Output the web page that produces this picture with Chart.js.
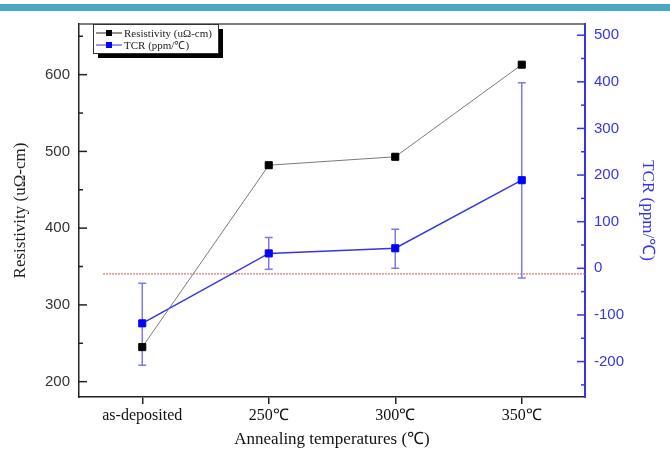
<!DOCTYPE html>
<html>
<head>
<meta charset="utf-8">
<script src="https://cdn.jsdelivr.net/npm/chart.js@4.4.0/dist/chart.umd.min.js"></script>
<style>
  html, body { margin: 0; padding: 0; background: #fff; }
  canvas { display: block; }
</style>
</head>
<body>
<canvas id="grafico" width="670" height="450"></canvas>
<script>
// datos
const temperaturas = ['as-deposited', '250℃', '300℃', '350℃'];
const resistividad = [245, 482, 493, 613];
const tcr = [-118, 32, 43, 189];
const tcrErrAlto = [-32, 66, 84, 398];
const tcrErrBajo = [-208, -2, 0, -21];
const lineaCero = -12;          // línea roja punteada (eje TCR)
const lineaCeroDesde = -0.31;   // posición de categoría donde empieza
const ticksResistividad = [200, 300, 400, 500, 600];
const ticksTcr = [-200, -100, 0, 100, 200, 300, 400, 500];

const serif = 'Liberation Serif, Times New Roman, serif';
const sans = 'Liberation Sans, Arial, sans-serif';
const azul = '#3535e6';

const decoracion = {
    id: 'decoracion',
    beforeDraw(chart) {
        const ctx = chart.ctx;
        ctx.save();
        ctx.fillStyle = '#4ba8c4'; // franja superior
        ctx.fillRect(0, 4, chart.width, 7);
        ctx.restore();
    },
    beforeDatasetsDraw(chart) {
        const ctx = chart.ctx, x = chart.scales.x, y1 = chart.scales.y1, area = chart.chartArea;
        ctx.save();
        // línea roja punteada
        ctx.strokeStyle = '#e05050';
        ctx.lineWidth = 1;
        ctx.setLineDash([2, 1]);
        const yc = y1.getPixelForValue(lineaCero);
        ctx.beginPath();
        ctx.moveTo(x.getPixelForValue(lineaCeroDesde), yc);
        ctx.lineTo(area.right, yc);
        ctx.stroke();
        ctx.setLineDash([]);
        // barras de error
        ctx.strokeStyle = '#7a7aee';
        ctx.lineWidth = 1.5;
        tcr.forEach((v, i) => {
            const px = x.getPixelForValue(i);
            const a = y1.getPixelForValue(tcrErrAlto[i]);
            const b = y1.getPixelForValue(tcrErrBajo[i]);
            ctx.beginPath();
            ctx.moveTo(px, a); ctx.lineTo(px, b);
            ctx.moveTo(px - 4, a); ctx.lineTo(px + 4, a);
            ctx.moveTo(px - 4, b); ctx.lineTo(px + 4, b);
            ctx.stroke();
        });
        ctx.restore();
    },
    afterDraw(chart) {
        const ctx = chart.ctx, area = chart.chartArea;
        const y = chart.scales.y, y1 = chart.scales.y1;
        ctx.save();
        // borde superior
        ctx.strokeStyle = '#555';
        ctx.lineWidth = 1.5;
        ctx.beginPath();
        ctx.moveTo(area.left, area.top);
        ctx.lineTo(area.right, area.top);
        ctx.stroke();
        // ticks hacia adentro (mayores cada 100, menores cada 50)
        ctx.lineWidth = 1.5;
        ctx.strokeStyle = '#222';
        for (let v = Math.ceil(y.min / 50) * 50; v <= y.max; v += 50) {
            const py = y.getPixelForValue(v);
            ctx.beginPath();
            ctx.moveTo(area.left, py);
            ctx.lineTo(area.left + (v % 100 === 0 ? 8 : 4), py);
            ctx.stroke();
        }
        ctx.strokeStyle = azul;
        for (let v = Math.ceil(y1.min / 50) * 50; v <= y1.max; v += 50) {
            const py = y1.getPixelForValue(v);
            ctx.beginPath();
            ctx.moveTo(area.right, py);
            ctx.lineTo(area.right - (v % 100 === 0 ? 8 : 4), py);
            ctx.stroke();
        }
        // leyenda con sombra
        const lx = 93, ly = 24, lw = 125, lh = 29;
        ctx.fillStyle = '#000';
        ctx.fillRect(lx + 5, ly + 5, lw, lh);
        ctx.fillStyle = '#fff';
        ctx.fillRect(lx, ly, lw, lh);
        ctx.strokeStyle = '#333';
        ctx.lineWidth = 1;
        ctx.strokeRect(lx + 0.5, ly + 0.5, lw, lh);
        ctx.font = '11px ' + serif;
        ctx.textBaseline = 'middle';
        chart.data.datasets.forEach((ds, i) => {
            const fy = ly + 9 + i * 12;
            ctx.strokeStyle = i === 0 ? '#222' : azul;
            ctx.beginPath();
            ctx.moveTo(lx + 3, fy); ctx.lineTo(lx + 29, fy);
            ctx.stroke();
            ctx.fillStyle = ds.pointBackgroundColor;
            ctx.fillRect(lx + 13, fy - 3, 6, 6);
            ctx.fillStyle = '#222';
            ctx.fillText(ds.label, lx + 31, fy + 1);
        });
        ctx.restore();
    }
};

const ctx = document.getElementById('grafico').getContext('2d');
const chart = new Chart(ctx, {
    type: 'line',
    data: {
        labels: temperaturas,
        datasets: [{
            label: 'Resistivity (uΩ-cm)',
            data: resistividad,
            yAxisID: 'y',
            borderColor: '#7a7a7a',
            borderWidth: 1,
            pointStyle: 'rect',
            pointRadius: 5,
            pointBackgroundColor: '#000',
            pointBorderColor: '#000',
            pointBorderWidth: 1
        }, {
            label: 'TCR (ppm/℃)',
            data: tcr,
            yAxisID: 'y1',
            borderColor: azul,
            borderWidth: 1.5,
            pointStyle: 'rect',
            pointRadius: 5,
            pointBackgroundColor: '#0000ff',
            pointBorderColor: '#0000ff',
            pointBorderWidth: 1
        }]
    },
    options: {
        responsive: false,
        animation: false,
        layout: { padding: { top: 24, left: 0, right: 0, bottom: 0 } },
        plugins: {
            legend: { display: false },
            tooltip: { enabled: false }
        },
        scales: {
            x: {
                offset: true,
                grid: { drawOnChartArea: false, tickLength: 7, color: '#222', lineWidth: 1.5 },
                border: { color: '#222', width: 1.5 },
                ticks: { font: { family: serif, size: 16 }, color: '#111', padding: 2 },
                title: {
                    display: true,
                    text: 'Annealing temperatures (℃)',
                    font: { family: serif, size: 17 },
                    color: '#111',
                    padding: { top: 0, bottom: 0 }
                },
                afterFit(s) { s.height = 53; }
            },
            y: {
                position: 'left',
                min: 180,
                max: 666,
                afterBuildTicks(s) { s.ticks = ticksResistividad.map(v => ({ value: v })); },
                grid: { drawOnChartArea: false, drawTicks: false },
                border: { color: '#222', width: 1.5 },
                ticks: { font: { family: sans, size: 15 }, color: '#333', padding: 9 },
                title: {
                    display: true,
                    text: 'Resistivity (uΩ-cm)',
                    font: { family: serif, size: 17 },
                    color: '#222',
                    padding: { top: 10, bottom: 0 }
                },
                afterFit(s) { s.width = 79; }
            },
            y1: {
                position: 'right',
                min: -276,
                max: 524,
                afterBuildTicks(s) { s.ticks = ticksTcr.map(v => ({ value: v })); },
                grid: { drawOnChartArea: false, drawTicks: false },
                border: { color: azul, width: 2 },
                ticks: { font: { family: sans, size: 15 }, color: azul, padding: 9 },
                title: {
                    display: true,
                    text: 'TCR (ppm/℃)',
                    font: { family: serif, size: 17 },
                    color: azul,
                    padding: { top: 12, bottom: 0 }
                },
                afterFit(s) { s.width = 85; }
            }
        }
    },
    plugins: [decoracion]
});
</script>
</body>
</html>
